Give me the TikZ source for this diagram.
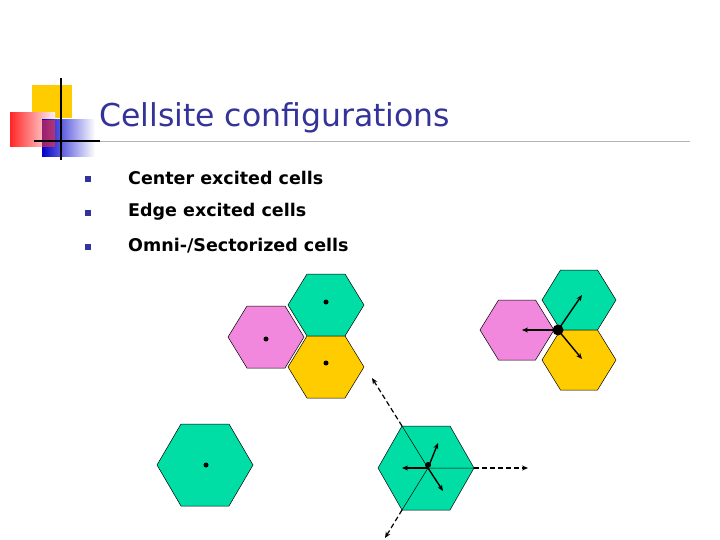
\documentclass[tikz,border=0pt]{standalone}
\usepackage{fontspec}
\setmainfont{DejaVu Sans}
\usetikzlibrary{arrows.meta}
\definecolor{hgreen}{RGB}{0,222,165}
\definecolor{hpink}{RGB}{242,136,222}
\definecolor{hyellow}{RGB}{255,204,0}
\definecolor{navy}{RGB}{51,51,153}
\begin{document}
\begin{tikzpicture}[x=1pt,y=-1pt,
  arr/.style={-{Stealth[length=6pt,width=5pt]},line width=1.4pt},
  darr/.style={-{Stealth[length=6pt,width=5pt]},line width=1.2pt,dash pattern=on 5pt off 3pt},
  bul/.style={fill=navy,minimum size=6pt,inner sep=0pt},
  item/.style={anchor=west,font=\bfseries\fontsize{17.5}{20}\selectfont,text=black,inner sep=0pt}]
\useasboundingbox (0,0) rectangle (720,540);
% logo
\fill[hyellow] (32,85) rectangle (72,118);
\shade[left color=red!85,right color=red!5] (10,113) rectangle (55,147);
\shade[left color=blue!80!black,right color=white] (42,120) rectangle (95,157);
\fill[red!80,opacity=0.6] (42,120) rectangle (55,147);
\draw[line width=2pt] (61,78) -- (61,160);
\draw[line width=1.2pt] (34,141) -- (100,141);
\draw[gray!60,line width=0.8pt] (100,141) -- (690,141);
\node[anchor=base west,inner sep=0pt,text=navy,font=\fontsize{31.5}{36}\selectfont] (title) at (99,127) {Cellsite configurations};
% bullets
\node[bul] (b1) at (88,179) {};
\node[bul] (b2) at (88,213) {};
\node[bul] (b3) at (88,247) {};
\node[item] (t1) at (128,178) {Center excited cells};
\node[item] (t2) at (128,212) {Edge excited cells};
\node[item] (t3) at (128,246) {Omni-/Sectorized cells};
% center excited cluster
\foreach \cx/\cy/\c in {326/305/hgreen,266/337/hpink,326/367/hyellow}{
  \fill[\c,draw=black,line width=0.5pt] (\cx+38,\cy) -- (\cx+19,\cy+31) -- (\cx-19,\cy+31) -- (\cx-38,\cy) -- (\cx-19,\cy-31) -- (\cx+19,\cy-31) -- cycle;}
\fill (326,302) circle (2.5);
\fill (266,339) circle (2.5);
\fill (326,363) circle (2.5);
% single hex
\fill[hgreen,draw=black,line width=0.5pt] (253,465) -- (229,506) -- (181,506) -- (157,465) -- (181,424) -- (229,424) -- cycle;
\fill (206,465) circle (2.5);
% edge excited
\foreach \cx/\cy/\c in {517/330/hpink,579/300/hgreen,579/360/hyellow}{
  \fill[\c,draw=black,line width=0.5pt] (\cx+37,\cy) -- (\cx+18.5,\cy+30) -- (\cx-18.5,\cy+30) -- (\cx-37,\cy) -- (\cx-18.5,\cy-30) -- (\cx+18.5,\cy-30) -- cycle;}
\coordinate (e) at (558,330);
\fill (e) circle (5.5);
\coordinate (ea) at (522,330);
\coordinate (eb) at (582,295);
\coordinate (ec) at (582,359);
\draw[arr] (e) -- (ea);
\draw[arr] (e) -- (eb);
\draw[arr] (e) -- (ec);
% omni / sectorized
\fill[hgreen,draw=black,line width=0.5pt] (474,468) -- (450,510) -- (402,510) -- (378,468) -- (402,426) -- (450,426) -- cycle;
\coordinate (o) at (428,468);
\coordinate (v1) at (402,426);
\coordinate (v2) at (474,468);
\coordinate (v3) at (402,510);
\draw[line width=0.5pt] (v1) -- (o) -- (v2) (o) -- (v3);
\coordinate (d1) at (372,378);
\coordinate (d2) at (528,468);
\coordinate (d3) at (385,538);
\draw[darr] (v1) -- (d1);
\draw[darr] (v2) -- (d2);
\draw[darr] (v3) -- (d3);
\fill (428,465) circle (3);
\coordinate (oa) at (402,468);
\coordinate (ob) at (438,443);
\coordinate (oc) at (443,491);
\draw[arr] (o) -- (oa);
\draw[arr] (o) -- (ob);
\draw[arr] (o) -- (oc);
\end{tikzpicture}
\end{document}
